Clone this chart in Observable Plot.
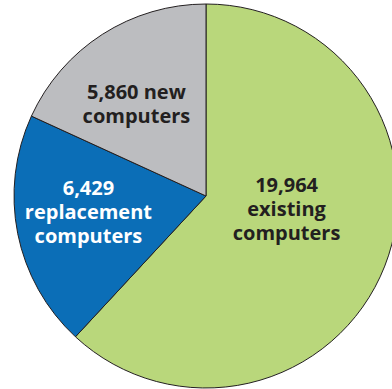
<!DOCTYPE html>
<html>
<head>
<meta charset="utf-8">
<script src="https://cdn.jsdelivr.net/npm/d3@7"></script>
<script src="https://cdn.jsdelivr.net/npm/@observablehq/plot@0.6"></script>
<style>
  html, body { margin: 0; padding: 0; background: #ffffff; }
  #chart svg { display: block; }
</style>
</head>
<body>
<div id="chart"></div>
<script>
// Data
const categories = ["existing computers", "replacement computers", "new computers"];
const values = [19964, 6429, 5860];
const valueLabels = ["19,964", "6,429", "5,860"];
const labelLines = ["19,964\nexisting\ncomputers", "6,429\nreplacement\ncomputers", "5,860 new\ncomputers"];

// Styles / layout (kept separate from data)
const fills = ["#b9d77b", "#0b6eb7", "#bcbdc0"];
const textColors = ["#231f20", "#ffffff", "#231f20"];
const labelOffset = [[0.417, -0.224], [-0.615, -0.240], [-0.365, 0.385]]; // in radius units, baseline of last line

const W = 392, H = 389, cx = 206, cy = 196, R = 192;

const rows = categories.map((c, i) => ({category: c, value: values[i], label: labelLines[i], fill: fills[i], color: textColors[i], lx: labelOffset[i][0], ly: labelOffset[i][1]}));
const arcs = d3.pie().value(d => d.value).sort(null)(rows);

function pieMark(index, scales) {
  const x0 = scales.x(0), y0 = scales.y(0);
  const r = scales.x(1) - scales.x(0);
  const arc = d3.arc().innerRadius(0).outerRadius(r);
  const g = d3.create("svg:g").attr("transform", `translate(${x0},${y0})`);
  g.selectAll("path").data(arcs).join("path")
    .attr("d", arc)
    .attr("fill", d => d.data.fill)
    .attr("stroke", "#231f20")
    .attr("stroke-width", 1)
    .attr("stroke-linejoin", "round");
  return g.node();
}

const chart = Plot.plot({
  width: W,
  height: H,
  margin: 0,
  x: {domain: [-cx / R, (W - cx) / R], axis: null},
  y: {domain: [-(H - cy) / R, cy / R], axis: null},
  style: {background: "#ffffff", overflow: "hidden"},
  marks: [
    pieMark,
    Plot.text(rows, {
      x: "lx",
      y: "ly",
      text: "label",
      fill: "color",
      textAnchor: "middle",
      lineAnchor: "bottom",
      lineHeight: 1.2,
      fontSize: 20,
      fontWeight: 700,
      fontFamily: "Open Sans, Lato, sans-serif"
    })
  ]
});

document.getElementById("chart").appendChild(chart);
</script>
</body>
</html>
